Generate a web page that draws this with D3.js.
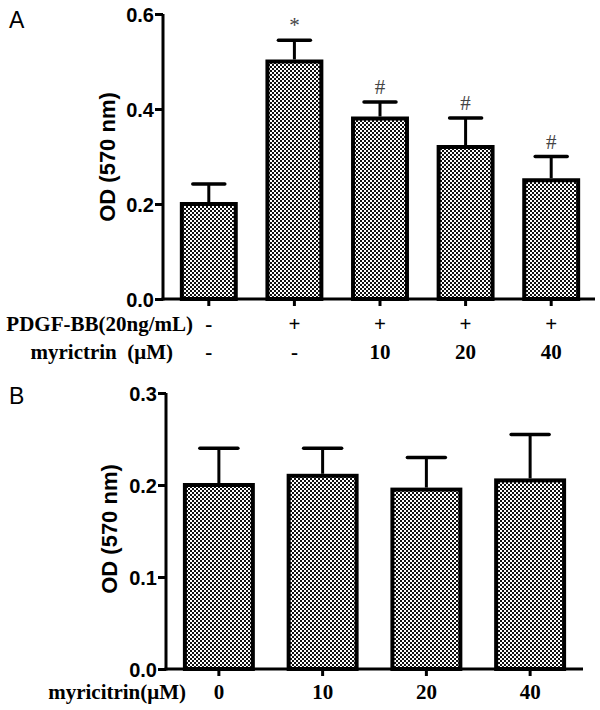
<!DOCTYPE html>
<html>
<head>
<meta charset="utf-8">
<script src="https://cdn.jsdelivr.net/npm/d3@7"></script>
<style>
html,body{margin:0;padding:0;background:#fff;}
svg{display:block;}
text{white-space:pre;}
</style>
</head>
<body>
<svg id="chart" width="600" height="710"></svg>
<script>
// ---------- Data ----------
const categoriesA = ["g1", "g2", "g3", "g4", "g5"];
const meansA = [0.20, 0.50, 0.38, 0.32, 0.25];
const errorsA = [0.042, 0.045, 0.035, 0.061, 0.050];
const marksA = ["", "*", "#", "#", "#"];
const pdgfLabels = ["-", "+", "+", "+", "+"];
const myriLabelsA = ["-", "-", "10", "20", "40"];
const yTicksA = [0.0, 0.2, 0.4, 0.6];

const categoriesB = ["0", "10", "20", "40"];
const meansB = [0.200, 0.210, 0.195, 0.205];
const errorsB = [0.040, 0.030, 0.035, 0.050];
const yTicksB = [0.0, 0.1, 0.2, 0.3];

// ---------- Setup ----------
const svg = d3.select("#chart");
const sans = "'Liberation Sans', Arial, sans-serif";
const serif = "'Liberation Serif', 'Times New Roman', serif";

const defs = svg.append("defs");
const pat = defs.append("pattern").attr("id", "dots")
  .attr("patternUnits", "userSpaceOnUse").attr("width", 4).attr("height", 4);
pat.append("rect").attr("width", 4).attr("height", 4).attr("fill", "#fff");
pat.append("rect").attr("x", 0).attr("y", 0).attr("width", 2).attr("height", 2).attr("fill", "#111");
pat.append("rect").attr("x", 2).attr("y", 2).attr("width", 2).attr("height", 2).attr("fill", "#111");

function panel(opts) {
  const g = svg.append("g");
  const x = d3.scaleBand().domain(opts.cats).range(opts.xr)
    .paddingInner(opts.pad).paddingOuter(opts.pad / 2);
  const y = d3.scaleLinear().domain(opts.yd).range(opts.yr);
  const x0 = opts.axisX, base = opts.yr[0];

  // bars
  g.selectAll("rect.bar").data(opts.cats).join("rect").attr("class", "bar")
    .attr("x", d => x(d)).attr("width", x.bandwidth())
    .attr("y", (d, i) => y(opts.means[i]))
    .attr("height", (d, i) => base - y(opts.means[i]))
    .attr("fill", "url(#dots)").attr("stroke", "#000").attr("stroke-width", 4);

  // error bars (upper only)
  const cx = d => x(d) + x.bandwidth() / 2;
  g.selectAll("line.err").data(opts.cats).join("line").attr("class", "err")
    .attr("x1", cx).attr("x2", cx)
    .attr("y1", (d, i) => y(opts.means[i]) - 2)
    .attr("y2", (d, i) => y(opts.means[i] + opts.errs[i]))
    .attr("stroke", "#000").attr("stroke-width", 3);
  g.selectAll("line.cap").data(opts.cats).join("line").attr("class", "cap")
    .attr("x1", d => cx(d) - opts.capW / 2).attr("x2", d => cx(d) + opts.capW / 2)
    .attr("y1", (d, i) => y(opts.means[i] + opts.errs[i]))
    .attr("y2", (d, i) => y(opts.means[i] + opts.errs[i]))
    .attr("stroke", "#000").attr("stroke-width", 3.5).attr("stroke-linecap", "round");

  // y axis
  const ya = d3.axisLeft(y).tickValues(opts.yticks).tickFormat(d3.format(".1f"))
    .tickSize(8).tickPadding(1);
  const yg = g.append("g").attr("transform", `translate(${x0},0)`).call(ya);
  yg.select(".domain").attr("stroke", "#000").attr("stroke-width", 3)
    .attr("d", `M0,${opts.yr[1]}V${base + 1.5}`);
  yg.selectAll(".tick line").attr("stroke", "#000").attr("stroke-width", 3);
  yg.selectAll(".tick text").attr("font-family", sans).attr("font-weight", "bold")
    .attr("font-size", 20).attr("fill", "#000").attr("dy", "0.36em");

  // x axis
  const xa = d3.axisBottom(x).tickSize(7).tickFormat("");
  const xg = g.append("g").attr("transform", `translate(0,${base})`).call(xa);
  xg.select(".domain").attr("stroke", "#000").attr("stroke-width", 3)
    .attr("d", `M${x0 - 1.5},0H${opts.xEnd}`);
  xg.selectAll(".tick line").attr("stroke", "#000").attr("stroke-width", 3);

  // y title
  g.append("text").attr("transform", `translate(${opts.titleX},${opts.titleY}) rotate(-90)`)
    .attr("text-anchor", "middle").attr("font-family", sans).attr("font-weight", "bold")
    .attr("font-size", 22).attr("fill", "#000").text("OD (570 nm)");

  return {g, x, y, cx};
}

// ---------- Panel A ----------
const A = panel({
  cats: categoriesA, means: meansA, errs: errorsA,
  xr: [166, 594], pad: 0.37, yd: [0, 0.6], yr: [299, 14],
  yticks: yTicksA, axisX: 163, xEnd: 595, capW: 32,
  titleX: 115, titleY: 157
});
A.g.selectAll("text.mark").data(categoriesA).join("text").attr("class", "mark")
  .attr("x", A.cx).attr("y", (d, i) => A.y(meansA[i] + errorsA[i]) - 8)
  .attr("text-anchor", "middle").attr("font-family", serif)
  .attr("font-size", 21).attr("fill", "#444").text((d, i) => marksA[i]);

svg.append("text").attr("x", 9).attr("y", 28).attr("font-family", sans)
  .attr("font-size", 23).attr("fill", "#000").text("A");

const rowStyle = s => s.attr("font-family", serif).attr("font-weight", "bold")
  .attr("font-size", 21).attr("fill", "#000");
svg.append("text").attr("x", 193).attr("y", 331).attr("text-anchor", "end")
  .call(rowStyle).text("PDGF-BB(20ng/mL)");
svg.append("text").attr("x", 173).attr("y", 359).attr("text-anchor", "end")
  .call(rowStyle).text("myrictrin  (μM)");
svg.append("g").selectAll("text").data(categoriesA).join("text")
  .attr("x", A.cx).attr("y", 331).attr("text-anchor", "middle").call(rowStyle)
  .text((d, i) => pdgfLabels[i]);
svg.append("g").selectAll("text").data(categoriesA).join("text")
  .attr("x", A.cx).attr("y", 359).attr("text-anchor", "middle").call(rowStyle)
  .text((d, i) => myriLabelsA[i]);

// ---------- Panel B ----------
const B = panel({
  cats: categoriesB, means: meansB, errs: errorsB,
  xr: [167, 582], pad: 0.345, yd: [0, 0.3], yr: [669, 393],
  yticks: yTicksB, axisX: 166, xEnd: 583, capW: 38,
  titleX: 117, titleY: 529
});
svg.append("text").attr("x", 9).attr("y", 404).attr("font-family", sans)
  .attr("font-size", 23).attr("fill", "#000").text("B");
svg.append("text").attr("x", 186).attr("y", 699).attr("text-anchor", "end")
  .call(rowStyle).text("myricitrin(μM)");
svg.append("g").selectAll("text").data(categoriesB).join("text")
  .attr("x", B.cx).attr("y", 699).attr("text-anchor", "middle").call(rowStyle)
  .text(d => d);
</script>
</body>
</html>
